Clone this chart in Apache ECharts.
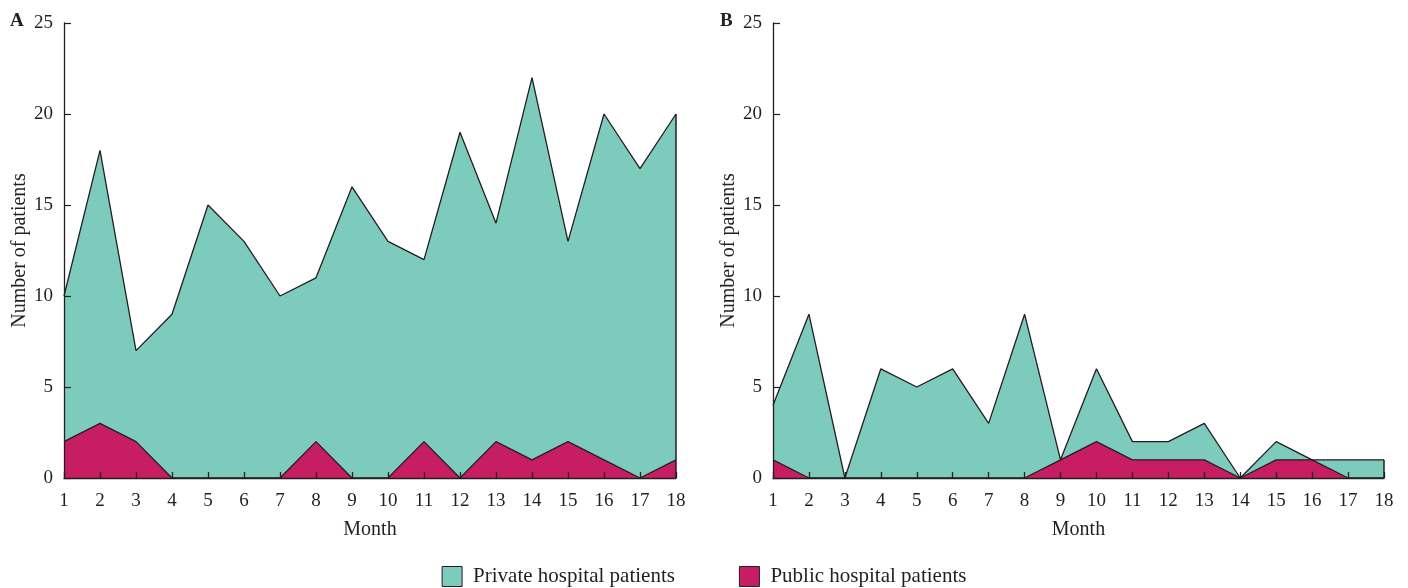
<!DOCTYPE html>
<html>
<head>
<meta charset="utf-8">
<script src="https://cdn.jsdelivr.net/npm/echarts@6/dist/echarts.min.js"></script>
<style>
html, body { margin: 0; padding: 0; background: #fff; }
#box { width: 1408px; height: 588px; }
</style>
</head>
<body>
<div id="box"></div>
<script>
// months on the x axis
var months = ['1','2','3','4','5','6','7','8','9','10','11','12','13','14','15','16','17','18'];
var yTicks = [0, 5, 10, 15, 20, 25];

// panel A
var privateA = [10, 18, 7, 9, 15, 13, 10, 11, 16, 13, 12, 19, 14, 22, 13, 20, 17, 20];
var publicA  = [2, 3, 2, 0, 0, 0, 0, 2, 0, 0, 2, 0, 2, 1, 2, 1, 0, 1];

// panel B
var privateB = [4, 9, 0, 6, 5, 6, 3, 9, 1, 6, 2, 2, 3, 0, 2, 1, 1, 1];
var publicB  = [1, 0, 0, 0, 0, 0, 0, 0, 1, 2, 1, 1, 1, 0, 1, 1, 0, 0];

var seriesNames = ['Private hospital patients', 'Public hospital patients'];

var font = '"Liberation Serif", "DejaVu Serif", serif';
var ink = '#231f20';
var teal = '#7ccbbd';
var pink = '#c71d63';

function xAx(gi) {
	return {
		type: 'category',
		gridIndex: gi,
		z: 10,
		data: months,
		boundaryGap: false,
		name: 'Month',
		nameLocation: 'middle',
		nameGap: 42,
		nameTextStyle: { fontFamily: font, fontSize: 20, color: ink },
		axisLine: { lineStyle: { color: ink, width: 1.3 } },
		axisTick: { inside: true, length: 6, lineStyle: { color: ink, width: 1.3 } },
		axisLabel: { fontFamily: font, fontSize: 19, color: ink, margin: 14 },
		splitLine: { show: false }
	};
}
function yAx(gi) {
	return {
		type: 'value',
		gridIndex: gi,
		z: 10,
		min: yTicks[0],
		max: yTicks[yTicks.length - 1],
		interval: 5,
		name: 'Number of patients',
		nameLocation: 'middle',
		nameGap: 32,
		nameTextStyle: { fontFamily: font, fontSize: 20, color: ink },
		axisLine: { show: true, lineStyle: { color: ink, width: 1.3 } },
		axisTick: { show: true, inside: true, length: 7, lineStyle: { color: ink, width: 1.2 } },
		axisLabel: { fontFamily: font, fontSize: 19, color: ink, margin: 11 },
		splitLine: { show: false }
	};
}
function area(name, gi, data, color, edge) {
	var s = {
		name: name,
		type: 'line',
		xAxisIndex: gi,
		yAxisIndex: gi,
		data: data,
		symbol: 'none',
		lineStyle: { color: ink, width: 1.3 },
		itemStyle: { color: color },
		areaStyle: { color: color, opacity: 1 }
	};
	if (edge) {
		var last = data.length - 1;
		s.markLine = {
			silent: true,
			symbol: 'none',
			label: { show: false },
			lineStyle: { color: ink, width: 1.5, type: 'solid' },
			data: [[{ coord: [months[last], 0] }, { coord: [months[last], data[last]] }]]
		};
	}
	return s;
}

var myChart = echarts.init(document.getElementById('box'));
var option = {
	animation: false,
	graphic: [
		{ type: 'text', left: 10, top: 12, style: { text: 'A', font: 'bold 19px ' + font, fill: ink } },
		{ type: 'text', left: 720, top: 12, style: { text: 'B', font: 'bold 19px ' + font, fill: ink } }
	],
	legend: {
		top: 566,
		left: 'center',
		padding: 0,
		itemWidth: 20,
		itemHeight: 20,
		itemGap: 64,
		icon: 'rect',
		textStyle: { fontFamily: font, fontSize: 21, color: ink, padding: [0, 0, 0, 6] },
		data: [
			{ name: seriesNames[0], itemStyle: { color: teal, borderColor: ink, borderWidth: 1 } },
			{ name: seriesNames[1], itemStyle: { color: pink, borderColor: ink, borderWidth: 1 } }
		]
	},
	grid: [
		{ left: 64, right: 732, top: 23, bottom: 110 },
		{ left: 773, right: 24, top: 23, bottom: 110 }
	],
	xAxis: [xAx(0), xAx(1)],
	yAxis: [yAx(0), yAx(1)],
	series: [
		area(seriesNames[0], 0, privateA, teal, true),
		area(seriesNames[1], 0, publicA, pink, false),
		area(seriesNames[0], 1, privateB, teal, true),
		area(seriesNames[1], 1, publicB, pink, false)
	]
};
myChart.setOption(option);
</script>
</body>
</html>
